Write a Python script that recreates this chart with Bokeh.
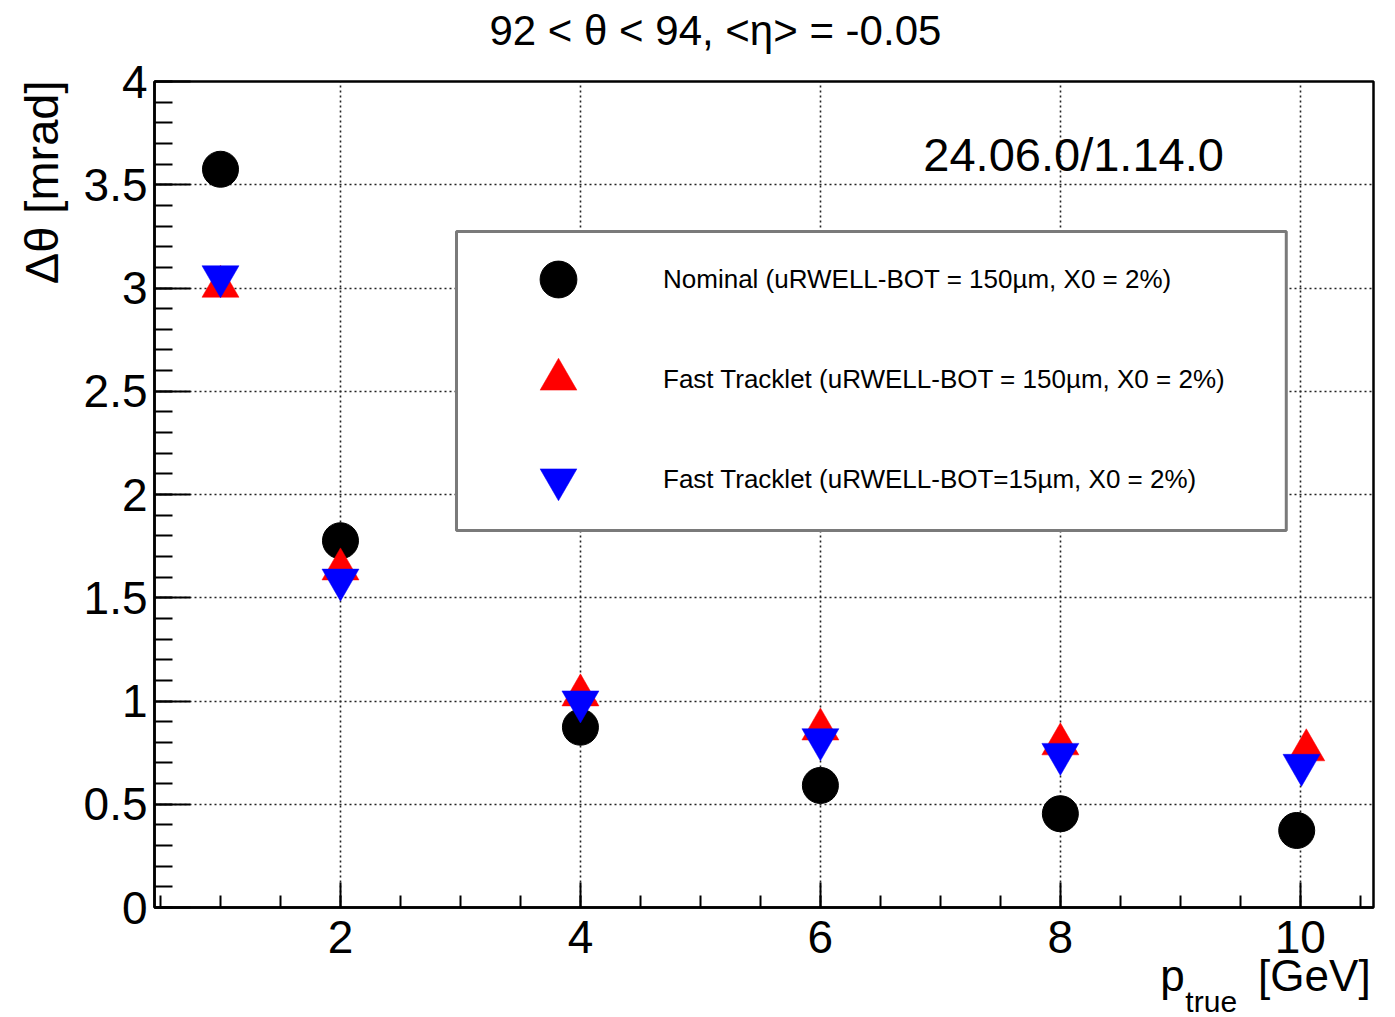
from bokeh.plotting import figure
from bokeh.models import (Range1d, SingleIntervalTicker, Label, Legend, LegendItem,
                          BoxAnnotation, CustomJSTickFormatter, ColumnDataSource)
from bokeh.transform import dodge
from bokeh.embed import file_html
from bokeh.resources import INLINE

# Angular resolution vs. true momentum, 92 < theta < 94 deg
p_nominal = [1, 2, 4, 6, 8, 9.97]
dtheta_nominal = [3.575, 1.776, 0.873, 0.591, 0.454, 0.373]

p_fast150 = [1, 2, 4, 6, 8, 10.05]
dtheta_fast150 = [3.033, 1.664, 1.054, 0.889, 0.817, 0.788]

p_fast15 = [1, 2, 4, 6, 8, 10.01]
dtheta_fast15 = [3.030, 1.561, 0.971, 0.788, 0.717, 0.664]

labels = [
    "Nominal (uRWELL-BOT = 150\u00b5m, X0 = 2%)",
    "Fast Tracklet (uRWELL-BOT = 150\u00b5m, X0 = 2%)",
    "Fast Tracklet (uRWELL-BOT=15\u00b5m, X0 = 2%)",
]

FONT = "Liberation Sans"
NBSP = "\u00a0"

p = figure(width=1395, height=1017, output_backend="svg", toolbar_location=None,
           title=None, x_range=Range1d(0.45, 10.61), y_range=Range1d(0, 4),
           min_border_left=154, min_border_right=22, min_border_top=81,
           min_border_bottom=110)
p.background_fill_color = "white"
p.border_fill_color = "white"
p.outline_line_color = "black"
p.outline_line_width = 2.5

# axes in ROOT style: ticks pointing into the frame
xt = SingleIntervalTicker(interval=2, num_minor_ticks=4)
yt = SingleIntervalTicker(interval=0.5, num_minor_ticks=5)
p.xaxis.ticker = xt
p.yaxis.ticker = yt
p.xgrid.ticker = xt
p.ygrid.ticker = yt
p.yaxis.formatter = CustomJSTickFormatter(code="return String(Math.round(tick*10)/10)")

for ax in (p.xaxis[0], p.yaxis[0]):
    ax.axis_line_width = 2.5
    ax.axis_line_color = "black"
    ax.major_tick_line_width = 2
    ax.minor_tick_line_width = 2
    ax.major_tick_line_color = "black"
    ax.minor_tick_line_color = "black"
    ax.major_tick_out = 0
    ax.minor_tick_out = 0
    ax.major_label_text_font = FONT
    ax.major_label_text_font_size = "46px"
    ax.major_label_text_color = "black"

p.xaxis.major_tick_in = 25
p.xaxis.minor_tick_in = 12
p.xaxis.major_label_standoff = 13
p.yaxis.major_tick_in = 36
p.yaxis.minor_tick_in = 18
p.yaxis.major_label_standoff = 7

for g in (p.xgrid[0], p.ygrid[0]):
    g.grid_line_color = "#222222"
    g.grid_line_width = 1.6
    g.grid_line_dash = "2 3"

src_nom = ColumnDataSource(dict(p=p_nominal, d=dtheta_nominal))
src_f150 = ColumnDataSource(dict(p=p_fast150, d=dtheta_fast150))
src_f15 = ColumnDataSource(dict(p=p_fast15, d=dtheta_fast15))

r_nom = p.scatter("p", "d", source=src_nom, marker="circle", size=36,
                  fill_color="black", line_color="black")
# triangles are centred on their bounding box rather than their centroid
r_f150 = p.scatter("p", dodge("d", -0.026), source=src_f150, marker="triangle",
                   size=37, fill_color="#ff0000", line_color="#ff0000", line_width=0.5)
r_f15 = p.scatter("p", dodge("d", 0.026), source=src_f15, marker="inverted_triangle",
                  size=37, fill_color="#0000ff", line_color="#0000ff", line_width=0.5)

# legend frame
box = BoxAnnotation(left=2.967, right=9.883, bottom=1.826, top=3.274,
                    fill_color="white", fill_alpha=1.0,
                    line_color="#7a7a7a", line_alpha=1.0, line_width=3)
p.add_layout(box)

legend = Legend(items=[LegendItem(label=labels[0], renderers=[r_nom]),
                       LegendItem(label=labels[1], renderers=[r_f150]),
                       LegendItem(label=labels[2], renderers=[r_f15])],
                location=(358, 382), orientation="vertical",
                glyph_width=92, glyph_height=92, label_standoff=59, spacing=8,
                padding=0, margin=0, border_line_alpha=0, background_fill_alpha=0,
                label_text_font=FONT, label_text_font_size="26px",
                label_text_color="black")
p.add_layout(legend)

p.add_layout(Label(x=6.858, y=3.646, text="24.06.0/1.14.0",
                   text_align="left", text_baseline="middle",
                   text_font=FONT, text_font_size="47px", text_color="black"))

# texts outside the frame live in the side panels
p.add_layout(Label(x=5.125, y=4.245, text="92 < \u03b8 < 94, <\u03b7> = -0.05",
                   text_align="center", text_baseline="middle",
                   text_font=FONT, text_font_size="42px", text_color="black"), "above")
p.add_layout(Label(x=9.042, y=-0.457, text="true", text_align="left",
                   text_baseline="middle", text_font=FONT,
                   text_font_size="30px", text_color="black"), "above")
p.add_layout(Label(x=-0.49, y=4.005, text="\u0394\u03b8 [mrad]", angle=1.5707963,
                   text_align="right", text_baseline="middle",
                   text_font=FONT, text_font_size="47px", text_color="black"), "left")
p.add_layout(Label(x=8.833, y=-0.328, text="p" + NBSP * 6 + "[GeV]",
                   text_align="left", text_baseline="middle", text_font=FONT,
                   text_font_size="44px", text_color="black"), "below")

open("out.html", "w").write(file_html(p, INLINE))
